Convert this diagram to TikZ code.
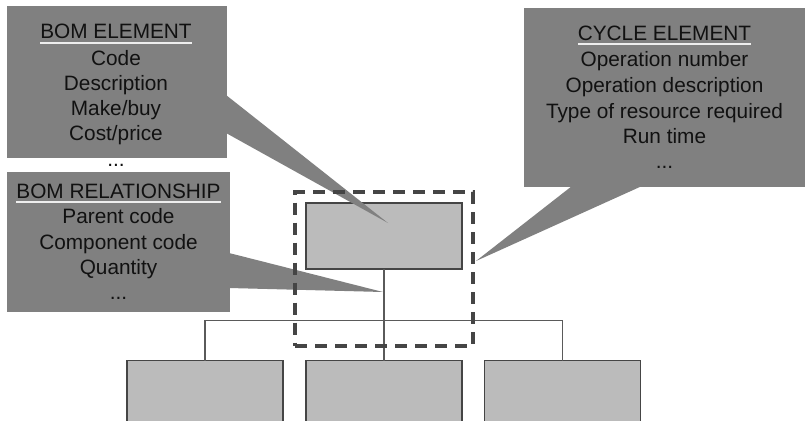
\documentclass[tikz,border=0pt]{standalone}
\usepackage{fontspec}
\setmainfont{Liberation Sans}
\definecolor{callgray}{HTML}{808080}
\definecolor{boxgray}{HTML}{BBBBBB}
\definecolor{edgegray}{HTML}{454545}
\definecolor{linegray}{HTML}{5A5A5A}
\definecolor{ulcol}{HTML}{EEEEEE}
\definecolor{textcol}{HTML}{111111}
\newcommand\myhdr[1]{\setbox0\hbox{#1}\rlap{\textcolor{ulcol}{\rule[-4.7pt]{\wd0}{1.8pt}}}\box0}
\begin{document}
\begin{tikzpicture}[x=1pt,y=-1pt,
  callbox/.style={fill=callgray, draw=none, inner sep=0, outer sep=0},
  pointer/.style={fill=callgray, draw=none},
  plainbox/.style={fill=boxgray, draw=edgegray, line width=1.5pt, inner sep=0, outer sep=0, minimum width=156pt},
  groupbox/.style={draw=edgegray, line width=4pt, dash pattern=on 12pt off 8pt, inner sep=0, outer sep=0},
  conn/.style={draw=linegray, line width=1.1pt},
  txt/.style={anchor=base, inner sep=0, outer sep=0, text=textcol, font=\fontsize{20.8}{24}\selectfont}]
\useasboundingbox (0,0) rectangle (805,420);
\clip (0,0) rectangle (805,420);
\fill[white] (0,0) rectangle (805,420);

% callout boxes
\node[callbox, minimum width=220pt, minimum height=152pt] (be) at (117,82) {};
\node[callbox, minimum width=223pt, minimum height=140pt] (br) at (118.5,242) {};
\node[callbox, minimum width=282pt, minimum height=179pt] (ce) at (665,97.5) {};

% texts: BOM element
\node[txt] (beh) at (116,39) {\myhdr{BOM ELEMENT}};
\node[txt] (be1) at (116,65) {Code};
\node[txt] (be2) at (116,90) {Description};
\node[txt] (be3) at (116,115.2) {Make/buy};
\node[txt] (be4) at (116,140.5) {Cost/price};
\node[txt] (be5) at (116,166) {...};

% texts: BOM relationship
\node[txt] (brh) at (118.5,198.5) {\myhdr{BOM RELATIONSHIP}};
\node[txt] (br1) at (118.5,223.8) {Parent code};
\node[txt] (br2) at (118.5,249.1) {Component code};
\node[txt] (br3) at (118.5,274.4) {Quantity};
\node[txt] (br4) at (118.5,299.7) {...};

% texts: cycle element
\node[txt] (ceh) at (664.5,40.5) {\myhdr{CYCLE ELEMENT}};
\node[txt] (ce1) at (664.5,66.5) {Operation number};
\node[txt] (ce2) at (664.5,92) {Operation description};
\node[txt] (ce3) at (664.5,118) {Type of resource required};
\node[txt] (ce4) at (664.5,143) {Run time};
\node[txt] (ce5) at (664.5,168.5) {...};

% structure boxes
\node[plainbox, minimum height=66pt] (top) at (384,236) {};
\node[plainbox, minimum height=80pt] (c1) at (205,400.5) {};
\node[plainbox, minimum height=80pt] (c2) at (384,400.5) {};
\node[plainbox, minimum height=80pt] (c3) at (562.5,400.5) {};

% connectors
\coordinate (hl) at (384,320.5);
\draw[conn] (top.south) -- (c2.north);
\draw[conn] (c1.north) |- (hl) -| (c3.north);

% pointers
\coordinate (beA) at (226,95);
\coordinate (beB) at (226,133);
\coordinate (beT) at (388,223);
\fill[pointer] (beA) -- (beT) -- (beB) -- cycle;
\coordinate (brA) at (229,253);
\coordinate (brB) at (229,288);
\coordinate (brT) at (383,292);
\fill[pointer] (brA) -- (brT) -- (brB) -- cycle;
\coordinate (ceA) at (572,186);
\coordinate (ceB) at (642,186);
\coordinate (ceT) at (476,261);
\fill[pointer] (ceA) -- (ceT) -- (ceB) -- cycle;

% dashed group
\node[groupbox, minimum width=178pt, minimum height=153.5pt] (grp) at (384,268.75) {};
\end{tikzpicture}
\end{document}
